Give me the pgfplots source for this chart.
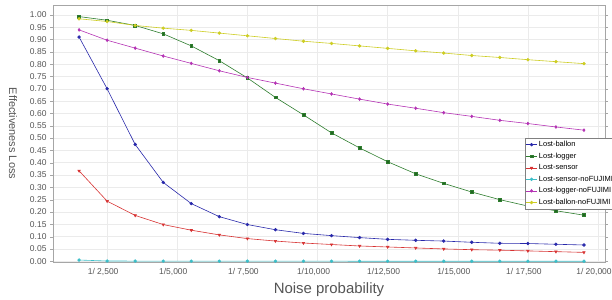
\documentclass[border=0pt]{standalone}
\usepackage{pgfplots}
\pgfplotsset{compat=1.18}
\usepackage{fontspec}
\setmainfont{Liberation Sans}
\definecolor{cblue}{RGB}{40,40,170}
\definecolor{cgreen}{RGB}{45,125,45}
\definecolor{cred}{RGB}{215,50,50}
\definecolor{ccyan}{RGB}{60,190,200}
\definecolor{cpurple}{RGB}{180,50,180}
\definecolor{cyellow}{RGB}{205,205,35}
\definecolor{txt}{RGB}{85,85,85}
\begin{document}
\begin{tikzpicture}
\path[use as bounding box] (0,0) rectangle (612bp,300bp);
\begin{axis}[
  at={(53bp,38bp)}, anchor=south west, scale only axis,
  width=552bp, height=257bp,
  xmin=570, xmax=20250, ymin=-0.003, ymax=1.04,
  scaled x ticks=false,
  /pgf/number format/assume math mode=true,
  xtick={2500,5000,7500,10000,12500,15000,17500,20000},
  xticklabels={{1/ 2,500},{1/5,000},{1/ 7,500},{1/10,000},{1/12,500},{1/15,000},{1/ 17,500},{1/ 20,000}},
  ytick={0,0.05,0.1,0.15,0.2,0.25,0.3,0.35,0.4,0.45,0.5,0.55,0.6,0.65,0.7,0.75,0.8,0.85,0.9,0.95,1.0},
  yticklabel style={/pgf/number format/.cd, fixed, fixed zerofill, precision=2},
  tick label style={font=\fontsize{8.5}{10}\selectfont, text=txt},
  xticklabel style={xshift=-4bp},
  tick align=outside, major tick length=3bp,
  tick style={gray!70},
  xtick style={draw=none},
  grid=major, grid style={draw=black!8},
  axis line style={draw=black!35},
  xlabel={Noise probability},
  xlabel style={at={(axis description cs:0.5,0)}, anchor=center, yshift=-28bp, font=\fontsize{15}{18}\selectfont, text=txt},
  ylabel={Effectiveness Loss},
  ylabel style={at={(axis description cs:-0.0725,0.5)}, anchor=center, rotate=180, font=\fontsize{11}{13}\selectfont, text=txt},
  legend style={at={(axis description cs:0.855,0.4825)}, anchor=north west,
    font=\fontsize{7.5}{9}\selectfont, draw=black!50, inner sep=1pt,
    row sep=0.8pt, cells={anchor=west}},
  legend image code/.code={\draw[mark repeat=2,mark phase=2] plot coordinates {(0cm,0cm) (0.18cm,0cm) (0.36cm,0cm)};},
  every axis plot/.append style={line width=0.6pt, mark size=1.4pt},
]
\addplot[cblue, mark=*] coordinates {
(1500,0.910)(2500,0.700)(3500,0.474)(4500,0.320)(5500,0.234)(6500,0.181)(7500,0.149)(8500,0.128)(9500,0.113)(10500,0.104)(11500,0.096)(12500,0.089)(13500,0.085)(14500,0.082)(15500,0.077)(16500,0.073)(17500,0.072)(18500,0.069)(19500,0.066)};
\addlegendentry{Lost-ballon}
\addplot[cgreen, mark=square*, mark options={fill=cgreen!80!black}] coordinates {
(1500,0.993)(2500,0.978)(3500,0.957)(4500,0.923)(5500,0.874)(6500,0.814)(7500,0.744)(8500,0.665)(9500,0.594)(10500,0.521)(11500,0.460)(12500,0.404)(13500,0.355)(14500,0.316)(15500,0.281)(16500,0.250)(17500,0.224)(18500,0.205)(19500,0.187)};
\addlegendentry{Lost-logger}
\addplot[cred, mark=triangle*, mark options={rotate=180}] coordinates {
(1500,0.367)(2500,0.244)(3500,0.186)(4500,0.149)(5500,0.126)(6500,0.107)(7500,0.092)(8500,0.082)(9500,0.074)(10500,0.068)(11500,0.062)(12500,0.058)(13500,0.054)(14500,0.050)(15500,0.047)(16500,0.045)(17500,0.042)(18500,0.039)(19500,0.036)};
\addlegendentry{Lost-sensor}
\addplot[ccyan, mark=*] coordinates {
(1500,0.005)(2500,0.001)(3500,0.0008)(4500,0.0006)(5500,0.0005)(6500,0.0004)(7500,0.0004)(8500,0.0003)(9500,0.0003)(10500,0.0003)(11500,0.0002)(12500,0.0002)(13500,0.0002)(14500,0.0002)(15500,0.0002)(16500,0.0001)(17500,0.0001)(18500,0.0001)(19500,0.0001)};
\addlegendentry{Lost-sensor-noFUJIMI}
\addplot[cpurple, mark=diamond*] coordinates {
(1500,0.939)(2500,0.897)(3500,0.865)(4500,0.833)(5500,0.803)(6500,0.773)(7500,0.746)(8500,0.723)(9500,0.700)(10500,0.679)(11500,0.658)(12500,0.638)(13500,0.621)(14500,0.603)(15500,0.588)(16500,0.572)(17500,0.559)(18500,0.545)(19500,0.532)};
\addlegendentry{Lost-logger-noFUJIMI}
\addplot[cyellow, mark=*] coordinates {
(1500,0.984)(2500,0.973)(3500,0.957)(4500,0.946)(5500,0.937)(6500,0.926)(7500,0.915)(8500,0.904)(9500,0.893)(10500,0.884)(11500,0.874)(12500,0.864)(13500,0.854)(14500,0.845)(15500,0.835)(16500,0.827)(17500,0.818)(18500,0.810)(19500,0.802)};
\addlegendentry{Lost-ballon-noFUJIMI}
\end{axis}
\end{tikzpicture}
\end{document}
